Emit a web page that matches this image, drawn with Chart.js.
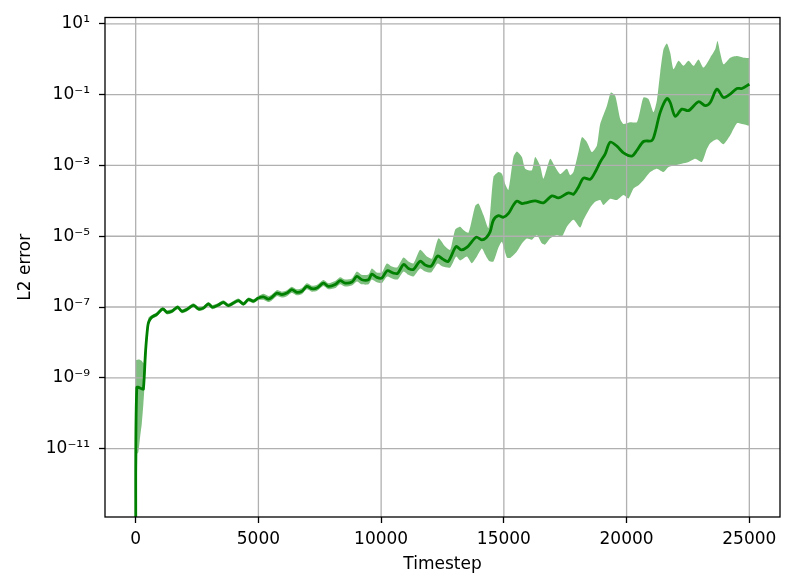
<!DOCTYPE html>
<html>
<head>
<meta charset="utf-8">
<script src="https://cdn.jsdelivr.net/npm/chart.js@4/dist/chart.umd.min.js"></script>
<style>
  html, body { margin: 0; padding: 0; background: #fff; }
</style>
</head>
<body>
<canvas id="myChart" width="793" height="588"></canvas>
<script>
// mean L2 error
const meanT = [0,45,249,314,403,493,546,656,860,1104,1267,1471,1716,1879,2082,2351,2555,2759,2963,3126,3346,3574,3778,3981,4185,4389,4593,4796,5000,5204,5408,5546,5750,5954,6157,6361,6565,6769,6972,7176,7380,7649,7853,8126,8329,8533,8806,9010,9214,9483,9621,9825,10029,10245,10501,10672,10917,11113,11316,11589,11793,12038,12302,12506,12730,13056,13260,13504,13871,14096,14279,14442,14576,14780,14984,15188,15391,15530,15734,15937,16276,16614,16956,17225,17633,17836,18040,18244,18517,18721,18925,19129,19332,19605,19874,20216,20420,20689,21031,21166,21369,21642,21777,21981,22254,22523,22930,23203,23407,23680,23949,24222,24495,24699,25000];
const meanV = [1e-14,5.3e-10,4.9e-10,4.8e-10,5.7e-9,2.9e-8,4.0e-8,5.2e-8,6.2e-8,8.9e-8,7.1e-8,7.6e-8,9.9e-8,7.6e-8,8.5e-8,1.12e-7,8.9e-8,9.4e-8,1.22e-7,9.9e-8,1.12e-7,1.36e-7,1.10e-7,1.30e-7,1.52e-7,1.22e-7,1.63e-7,1.46e-7,1.80e-7,1.94e-7,1.68e-7,1.87e-7,2.47e-7,2.24e-7,2.47e-7,3.1e-7,2.6e-7,2.78e-7,3.84e-7,3.3e-7,3.44e-7,4.75e-7,3.84e-7,4.3e-7,5.55e-7,4.75e-7,5.07e-7,7.3e-7,5.9e-7,5.9e-7,8.5e-7,6.9e-7,6.6e-7,1.06e-6,9.1e-7,8.9e-7,1.59e-6,1.23e-6,1.15e-6,1.97e-6,1.54e-6,1.43e-6,2.76e-6,2.27e-6,1.94e-6,5.1e-6,4.12e-6,4.9e-6,9.4e-6,7.9e-6,9.1e-6,1.35e-5,2.87e-5,3.8e-5,3.44e-5,4.4e-5,7.6e-5,9.8e-5,8.4e-5,8.95e-5,1.0e-4,8.8e-5,1.38e-4,1.21e-4,1.68e-4,1.54e-4,2.47e-4,4.4e-4,4.07e-4,6.5e-4,1.25e-3,2.13e-3,4.54e-3,3.5e-3,2.27e-3,1.84e-3,2.65e-3,4.75e-3,5.07e-3,8.7e-3,3.16e-2,7.8e-2,6.0e-2,2.44e-2,3.9e-2,3.53e-2,6.3e-2,4.88e-2,6.0e-2,0.143,8.3e-2,0.103,0.149,0.149,0.197];

// upper edge of the shaded band
const upT = [10,150,250,320,380,450,520,600,656,860,1104,1267,1471,1716,1879,2082,2351,2555,2759,2963,3126,3346,3574,3778,3981,4185,4389,4593,4796,5000,5204,5408,5546,5750,5954,6157,6361,6565,6769,6972,7176,7380,7649,7853,8126,8329,8533,8806,9010,9214,9483,9621,9825,10029,10232,10436,10652,10909,11113,11316,11589,11862,12078,12335,12608,12812,13016,13220,13354,13558,13831,13965,14169,14373,14576,14780,14919,15053,15188,15391,15530,15734,15868,16141,16276,16479,16614,16887,17090,17294,17567,17702,17836,18040,18179,18383,18586,18790,18925,19198,19361,19536,19740,19874,20147,20420,20554,20689,20893,21097,21235,21369,21504,21642,21777,21912,22115,22319,22523,22727,22930,23134,23407,23611,23704,23813,23949,24222,24495,24764,25000];
const upV = [3.2e-9,3.3e-9,3.0e-9,2.6e-9,6e-9,2.5e-8,5.0e-8,5.6e-8,5.9e-8,7.1e-8,1.01e-7,8.1e-8,8.6e-8,1.13e-7,8.6e-8,9.7e-8,1.27e-7,1.01e-7,1.07e-7,1.39e-7,1.13e-7,1.27e-7,1.55e-7,1.25e-7,1.48e-7,1.73e-7,1.39e-7,1.85e-7,1.66e-7,2.05e-7,2.36e-7,2.04e-7,2.27e-7,3.0e-7,2.72e-7,3.0e-7,3.76e-7,3.16e-7,3.37e-7,4.66e-7,4.0e-7,4.18e-7,5.77e-7,4.66e-7,5.4e-7,6.96e-7,5.96e-7,6.36e-7,1.01e-6,8.1e-7,8.3e-7,1.23e-6,9.5e-7,9.5e-7,1.70e-6,1.40e-6,1.31e-6,2.51e-6,1.94e-6,1.70e-6,4.12e-6,2.67e-6,2.35e-6,8.7e-6,5.1e-6,4.12e-6,1.53e-5,1.86e-5,1.50e-5,1.26e-5,7.2e-5,8.4e-5,3.96e-5,1.7e-5,4.72e-4,6.5e-4,5.85e-4,3.0e-4,2.04e-4,1.72e-3,2.46e-3,1.72e-3,8.1e-4,7.3e-4,1.72e-3,9.6e-4,4.23e-4,1.54e-3,9.0e-4,5.7e-4,8.1e-4,5.3e-4,6.5e-4,2.38e-3,6.3e-3,4.54e-3,2.38e-3,3.67e-3,1.48e-2,4.88e-2,0.115,9.3e-2,2.05e-2,1.48e-2,1.66e-2,1.66e-2,3.6e-2,8.3e-2,7.5e-2,3.16e-2,6.9e-2,0.42,1.9,2.8,1.53,0.52,0.90,0.65,0.90,0.65,0.99,0.58,1.11,1.9,3.27,1.53,0.72,1.11,1.24,1.11,1.09];

// lower edge of the shaded band
const loT = [10,69,110,180,249,314,355,420,493,560,656,860,1104,1267,1471,1716,1879,2082,2351,2555,2759,2963,3126,3346,3574,3778,3981,4185,4389,4593,4796,5000,5204,5408,5546,5750,5954,6157,6361,6565,6769,6972,7176,7380,7649,7853,8126,8329,8533,8806,9010,9214,9483,9621,9825,10029,10245,10501,10672,10917,11113,11316,11589,11793,12038,12302,12506,12812,13056,13220,13493,13696,13900,14103,14238,14401,14576,14780,14919,15122,15257,15530,15734,15937,16141,16345,16548,16683,16887,17160,17364,17567,17836,18109,18244,18517,18721,18925,19058,19332,19605,19874,20077,20281,20485,20689,20961,21235,21504,21708,21981,22254,22523,22796,23069,23273,23407,23680,23949,24222,24495,24699,25000];
const loV = [1e-14,7e-12,8e-12,2.1e-11,5.1e-11,1.85e-10,5e-10,3e-9,2.2e-8,3.6e-8,4.6e-8,5.4e-8,7.8e-8,6.2e-8,6.7e-8,8.7e-8,6.7e-8,7.5e-8,9.8e-8,7.8e-8,8.3e-8,1.07e-7,8.7e-8,9.8e-8,1.2e-7,9.7e-8,1.14e-7,1.34e-7,1.07e-7,1.43e-7,1.28e-7,1.58e-7,1.6e-7,1.38e-7,1.54e-7,2.03e-7,1.85e-7,2.03e-7,2.55e-7,2.14e-7,2.29e-7,3.16e-7,2.72e-7,2.83e-7,3.91e-7,3.16e-7,3.43e-7,4.43e-7,3.79e-7,4.04e-7,5.3e-7,4.37e-7,4.37e-7,6.0e-7,4.98e-7,4.75e-7,7.3e-7,6.2e-7,6.0e-7,1.01e-6,8.1e-7,7.3e-7,1.23e-6,1.01e-6,9.5e-7,1.70e-6,1.40e-6,1.31e-6,2.67e-6,2.07e-6,2.67e-6,1.73e-6,2.67e-6,4.49e-6,3.04e-6,2.0e-6,1.94e-6,4.79e-6,7.0e-6,2.51e-6,2.43e-6,3.69e-6,6.2e-6,8.6e-6,8.0e-6,1.09e-5,6.3e-6,5.8e-6,8.7e-6,1.09e-5,9.7e-6,1.86e-5,2.92e-5,1.75e-5,2.92e-5,6.4e-5,9.4e-5,1.05e-4,7.6e-5,1.14e-4,1.05e-4,1.45e-4,1.16e-4,2.22e-4,2.76e-4,3.81e-4,6.5e-4,8.1e-4,6.5e-4,9.0e-4,1.01e-3,1.12e-3,1.25e-3,1.54e-3,1.25e-3,2.94e-3,4.26e-3,5.5e-3,3.99e-3,7.1e-3,1.55e-2,1.48e-2,1.32e-2];

const xTicks = [0, 5000, 10000, 15000, 20000, 25000];
const xTickLabels = ["0", "5000", "10000", "15000", "20000", "25000"];
const yTicks = [1e1, 1e-1, 1e-3, 1e-5, 1e-7, 1e-9, 1e-11];
const yTickLabels = ["10¹", "10⁻¹", "10⁻³", "10⁻⁵", "10⁻⁷", "10⁻⁹", "10⁻¹¹"];

const toPoints = (ts, vs) => ts.map((t, i) => ({ x: t, y: vs[i] }));
const font = { family: "'DejaVu Sans', sans-serif", size: 17 };
const tickFont = { family: "'DejaVu Sans', sans-serif", size: 17, lineHeight: 1 };

// grid sits above the band but under the mean line, like matplotlib
const gridAndFrame = {
  id: "gridAndFrame",
  beforeDatasetDraw(chart, args) {
    if (args.index !== 0) return;
    const { ctx, chartArea: a, scales } = chart;
    ctx.save();
    ctx.strokeStyle = "#b0b0b0";
    ctx.lineWidth = 1.3;
    scales.x.ticks.forEach((t) => {
      const px = scales.x.getPixelForValue(t.value);
      ctx.beginPath(); ctx.moveTo(px, a.top); ctx.lineTo(px, a.bottom); ctx.stroke();
    });
    scales.y.ticks.forEach((t) => {
      const py = scales.y.getPixelForValue(t.value);
      ctx.beginPath(); ctx.moveTo(a.left, py); ctx.lineTo(a.right, py); ctx.stroke();
    });
    ctx.restore();
  },
  afterDraw(chart) {
    const { ctx, chartArea: a } = chart;
    ctx.save();
    ctx.strokeStyle = "#000";
    ctx.lineWidth = 1.3;
    ctx.strokeRect(a.left, a.top, a.right - a.left, a.bottom - a.top);
    ctx.restore();
  },
};

const ctx = document.getElementById("myChart").getContext("2d");
new Chart(ctx, {
  type: "line",
  data: {
    datasets: [
      {
        label: "mean",
        data: toPoints(meanT, meanV),
        borderColor: "#008000",
        borderWidth: 2.8,
        pointRadius: 0,
        tension: 0.3,
        fill: false,
      },
      {
        label: "upper",
        data: toPoints(upT, upV),
        borderColor: "rgba(0,128,0,0)",
        backgroundColor: "rgba(0,128,0,0.5)",
        pointRadius: 0,
        tension: 0.2,
        fill: 2,
      },
      {
        label: "lower",
        data: toPoints(loT, loV),
        borderColor: "rgba(0,128,0,0)",
        pointRadius: 0,
        tension: 0.2,
        fill: false,
      },
    ],
  },
  options: {
    responsive: false,
    animation: false,
    devicePixelRatio: 1,
    layout: { padding: { left: 0, right: 13, top: 12, bottom: 0 } },
    scales: {
      x: {
        type: "linear",
        min: -1250,
        max: 26250,
        afterBuildTicks: (scale) => { scale.ticks = xTicks.map((v) => ({ value: v })); },
        afterFit: (scale) => { scale.height = 71; },
        grid: { display: true, drawOnChartArea: false, tickColor: "#000", tickWidth: 1.3, tickLength: 6 },
        border: { display: false },
        ticks: {
          font: tickFont,
          color: "#000",
          padding: 8,
          maxRotation: 0,
          callback: (v) => {
            const i = xTicks.indexOf(v);
            return i >= 0 ? xTickLabels[i] : "";
          },
        },
        title: { display: true, text: "Timestep", font: font, color: "#000", padding: { top: 0, bottom: 13 } },
      },
      y: {
        type: "logarithmic",
        min: 1.17e-13,
        max: 15.1,
        afterBuildTicks: (scale) => { scale.ticks = yTicks.map((v) => ({ value: v, major: true })); },
        afterFit: (scale) => { scale.width = 105; },
        grid: { display: true, drawOnChartArea: false, tickColor: "#000", tickWidth: 1.3, tickLength: 6 },
        border: { display: false },
        ticks: {
          font: tickFont,
          color: "#000",
          padding: 9,
          callback: (v) => {
            const i = yTicks.findIndex((t) => Math.abs(Math.log10(t) - Math.log10(v)) < 1e-6);
            return i >= 0 ? yTickLabels[i] : "";
          },
        },
        title: { display: true, text: "L2 error", font: font, color: "#000", padding: { top: 15, bottom: 0 } },
      },
    },
    plugins: {
      legend: { display: false },
      tooltip: { enabled: false },
    },
  },
  plugins: [gridAndFrame],
});
</script>
</body>
</html>
